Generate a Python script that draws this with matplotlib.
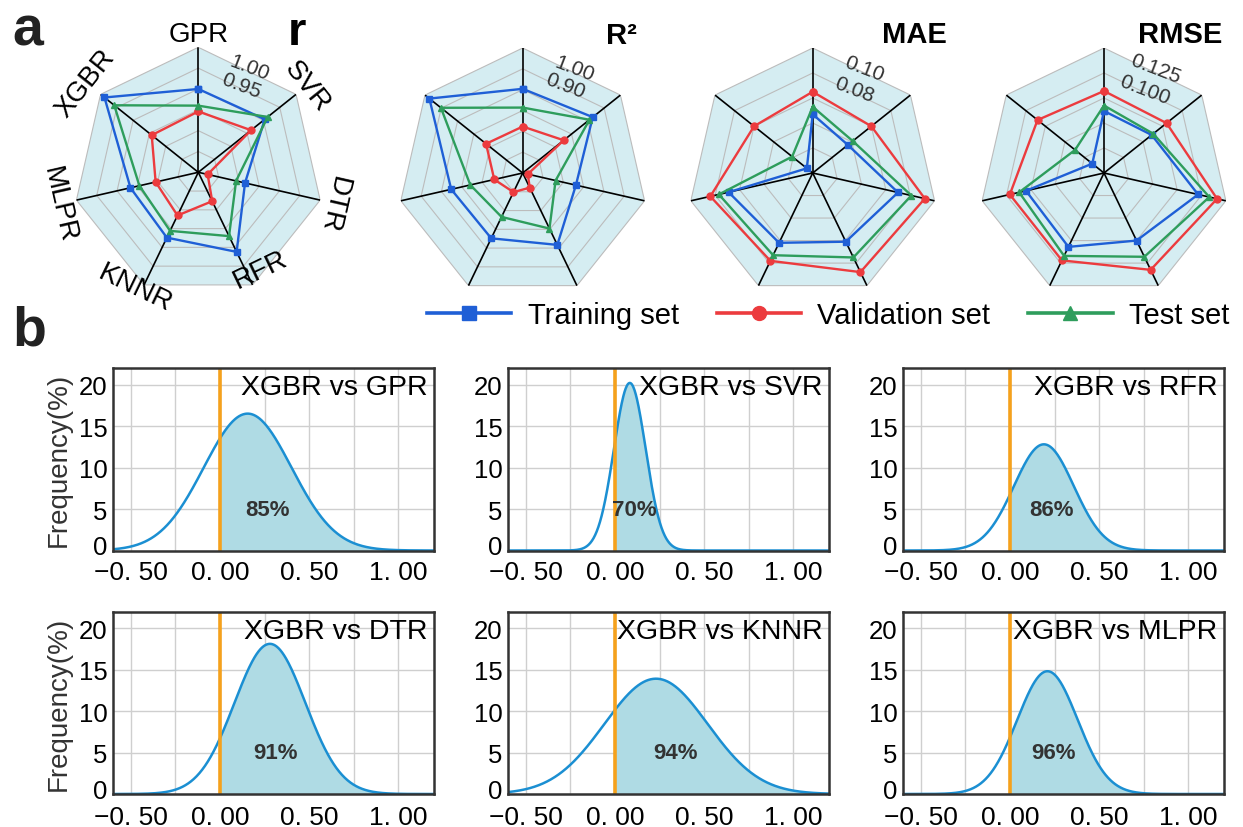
import numpy as np
import matplotlib
matplotlib.use('Agg')
import matplotlib.pyplot as plt
from matplotlib.lines import Line2D
from matplotlib.transforms import ScaledTranslation

plt.rcParams['font.family'] = ['Liberation Sans', 'DejaVu Sans']

models = ['GPR', 'SVR', 'DTR', 'RFR', 'KNNR', 'MLPR', 'XGBR']
set_names = ['Training set', 'Validation set', 'Test set']

# radar scores, same order as models
r_train = [0.900, 0.904, 0.815, 0.912, 0.874, 0.867, 0.988]
r_valid = [0.846, 0.862, 0.723, 0.777, 0.815, 0.805, 0.843]
r_test = [0.860, 0.913, 0.793, 0.870, 0.856, 0.845, 0.958]

r2_train = [0.804, 0.830, 0.662, 0.783, 0.748, 0.752, 0.973]
r2_valid = [0.623, 0.652, 0.425, 0.478, 0.502, 0.540, 0.625]
r2_test = [0.714, 0.810, 0.562, 0.696, 0.634, 0.658, 0.902]

mae_train = [0.047, 0.036, 0.070, 0.061, 0.062, 0.069, 0.006]
mae_valid = [0.065, 0.060, 0.092, 0.088, 0.078, 0.084, 0.060]
mae_test = [0.053, 0.041, 0.081, 0.075, 0.073, 0.077, 0.021]

rmse_train = [0.062, 0.061, 0.0965, 0.075, 0.082, 0.080, 0.015]
rmse_valid = [0.082, 0.080, 0.116, 0.1075, 0.097, 0.0966, 0.085]
rmse_test = [0.0675, 0.063, 0.108, 0.093, 0.092, 0.087, 0.037]

# difference distributions (XGBR vs other model)
rivals = ['GPR', 'SVR', 'RFR', 'DTR', 'KNNR', 'MLPR']
diff_mean = [0.155, 0.083, 0.19, 0.28, 0.23, 0.21]
diff_std = [0.246, 0.089, 0.168, 0.199, 0.29, 0.169]
peak_freq = [16.5, 20.2, 12.8, 18.1, 13.9, 14.8]
share_pos = [85, 70, 86, 91, 94, 96]

W, H = 1243, 828
fig = plt.figure(figsize=(W / 100, H / 100), dpi=100)

set_colors = ['#1f5fd6', '#ec3b3e', '#2e9d5c']
set_markers = ['s', 'o', '^']
BG = '#d5edf2'
DARK = '#333333'


def px_rect(left, top, w, h):
    return [left / W, 1 - (top + h) / H, w / W, h / H]


def radar(cx, cy, series, lo, hi, step, ticks, names=False):
    R = 125
    ax = fig.add_axes(px_rect(cx - R, cy - R, 2 * R, 2 * R), projection='polar')
    n = len(models)
    ang = np.linspace(0, 2 * np.pi, n, endpoint=False)
    ang_c = np.append(ang, ang[0])
    ax.set_theta_zero_location('N')
    ax.set_theta_direction(-1)
    ax.set_ylim(lo, hi)
    ax.grid(False)
    ax.set_xticks([])
    ax.set_yticks([])
    ax.spines['polar'].set_visible(False)
    ax.patch.set_alpha(0)

    ax.fill(ang_c, [hi] * (n + 1), color=BG, lw=0, zorder=0)
    for lvl in np.arange(lo + step, hi + step / 2, step):
        ax.plot(ang_c, [lvl] * (n + 1), color='#bcbcbc', lw=0.8, zorder=1)
    for a in ang:
        ax.plot([a, a], [lo, hi], color='black', lw=1.2, zorder=2)

    for vals, c, m in zip(series, set_colors, set_markers):
        v = np.append(vals, vals[0])
        ax.plot(ang_c, v, color=c, lw=1.7, marker=m, ms=5, zorder=3, clip_on=False)

    for t, lab in ticks.items():
        pos = lo + 0.935 * (t - lo)
        ax.text(np.deg2rad(26), pos, lab, rotation=-21, ha='center', va='center',
                fontsize=15, color=DARK, zorder=4)

    if names:
        # angle offset (deg) and radius factor for each model name
        tweak = {'RFR': (-6.8, 0.92), 'KNNR': (3, 1.05), 'MLPR': (0, 1.14),
                 'XGBR': (0, 1.15)}
        for a, name in zip(ang, models):
            deg = np.rad2deg(a)
            if deg < 110:
                rot = -deg
            elif deg < 270:
                rot = 180 - deg
            else:
                rot = 360 - deg
            d_off, f = tweak.get(name, (0, 1.11))
            ax.text(np.deg2rad(deg + d_off), lo + f * (hi - lo), name,
                    rotation=rot, rotation_mode='anchor', ha='center', va='center',
                    fontsize=20, color='black')
    return ax


radar(198.3, 173.3, [r_train, r_valid, r_test], 0.70, 1.00, 0.05,
      {1.00: '1.00', 0.95: '0.95'}, names=True)
radar(522.7, 174, [r2_train, r2_valid, r2_test], 0.40, 1.00, 0.10,
      {1.00: '1.00', 0.90: '0.90'})
radar(812.7, 174, [mae_train, mae_valid, mae_test], 0.0, 0.10, 0.02,
      {0.10: '0.10', 0.08: '0.08'})
radar(1104, 174, [rmse_train, rmse_valid, rmse_test], 0.0, 0.125, 0.025,
      {0.125: '0.125', 0.100: '0.100'})

fig.text(297 / W, 1 - 33 / H, 'r', fontsize=34, weight='bold', ha='center', va='center')
fig.text(621 / W, 1 - 36 / H, 'R²', fontsize=21, weight='bold', ha='center', va='center')
fig.text(914 / W, 1 - 35 / H, 'MAE', fontsize=21, weight='bold', ha='center', va='center')
fig.text(1180 / W, 1 - 35 / H, 'RMSE', fontsize=21, weight='bold', ha='center', va='center')

fig.text(12 / W, 1 - 45 / H, 'a', fontsize=40, weight='bold', color='#222222', va='baseline')
fig.text(12 / W, 1 - 345 / H, 'b', fontsize=40, weight='bold', color='#222222', va='baseline')

handles = [Line2D([], [], color=c, marker=m, lw=2.6, ms=10) for c, m in zip(set_colors, set_markers)]
fig.legend(handles, set_names, loc='center', bbox_to_anchor=(828 / W, 1 - 316 / H), ncol=3,
           frameon=False, fontsize=21, handlelength=2.9, handletextpad=0.55, columnspacing=1.3)

# bottom panels
col_left = [113, 508, 903]
row_top = [369, 612.5]
xs = np.linspace(-0.6, 1.2, 800)
lift = ScaledTranslation(0, 4 / 72, fig.dpi_scale_trans)
for i, name in enumerate(rivals):
    row, col = divmod(i, 3)
    ax = fig.add_axes(px_rect(col_left[col], row_top[row], 321, 182.5))
    y = peak_freq[i] * np.exp(-(xs - diff_mean[i]) ** 2 / (2 * diff_std[i] ** 2))
    right = xs >= 0
    ax.fill_between(xs[right], 0, y[right], color='#afdbe4', lw=0, zorder=1)
    ax.plot(xs, y, color='#1b8fd2', lw=1.8, zorder=3)
    ax.axvline(0, color='#f5a11c', lw=2.6, zorder=4)
    cen = np.sum(xs[right] * y[right]) / np.sum(y[right])
    ax.text(cen, 5, f'{share_pos[i]}%', ha='center', va='center', fontsize=16,
            weight='bold', color=DARK, zorder=5)
    ax.text(0.98, 0.895, f'XGBR vs {name}', transform=ax.transAxes, ha='right',
            va='center', fontsize=20.5, color='black', zorder=6)
    ax.set_xlim(-0.6, 1.2)
    ax.set_ylim(0, 22)
    ax.set_xticks([-0.5, 0, 0.5, 1.0])
    ax.set_xticklabels(['−0. 50', '0. 00', '0. 50', '1. 00'])
    ax.set_xticks(np.arange(-0.5, 1.01, 0.25), minor=True)
    ax.set_yticks([0, 5, 10, 15, 20])
    ax.grid(True, which='both', color='#cfcfcf', lw=1.0, zorder=0)
    ax.set_axisbelow(True)
    ax.tick_params(which='both', length=0, colors='black')
    ax.tick_params(axis='y', labelsize=18.5, pad=4)
    ax.tick_params(axis='x', labelsize=19, pad=7 if row == 0 else 8)
    # nudge the "0" up a little so it clears the x labels below it
    zero_lab = ax.yaxis.get_major_ticks()[0].label1
    zero_lab.set_transform(zero_lab.get_transform() + lift)
    for sp in ax.spines.values():
        sp.set_color(DARK)
        sp.set_linewidth(1.8)
        sp.set_zorder(7)
    if col == 0:
        ax.set_ylabel('Frequency(%)', fontsize=20, color=DARK, labelpad=5)

fig.savefig('out.png', dpi=100)
